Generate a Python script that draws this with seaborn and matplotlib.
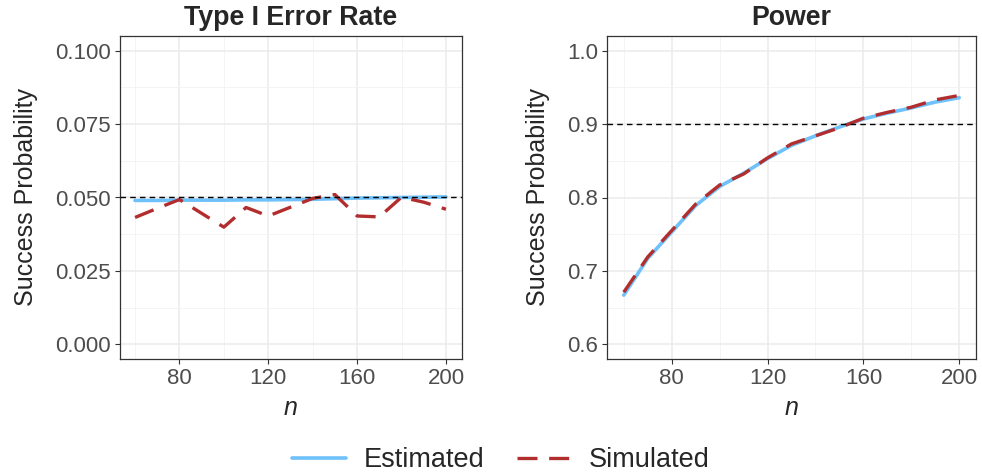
import numpy as np
import pandas as pd
import seaborn as sns
import matplotlib.pyplot as plt
from matplotlib.lines import Line2D

n_values = [60, 70, 80, 90, 100, 110, 120, 130, 140, 150, 160, 170, 180, 190, 200]

# type I error rate
t1_estimated = [0.0490, 0.0490, 0.0491, 0.0491, 0.0491, 0.0492, 0.0492, 0.0493,
                0.0494, 0.0496, 0.0498, 0.0499, 0.0500, 0.0501, 0.0502]
t1_simulated = [0.0432, 0.0463, 0.0493, 0.0446, 0.0399, 0.0466, 0.0437, 0.0467,
                0.0497, 0.0510, 0.0437, 0.0434, 0.0501, 0.0484, 0.0460]

# power
pw_estimated = [0.667, 0.717, 0.753, 0.789, 0.815, 0.833, 0.853, 0.871,
                0.884, 0.896, 0.907, 0.915, 0.922, 0.930, 0.936]
pw_simulated = [0.671, 0.719, 0.755, 0.791, 0.817, 0.832, 0.854, 0.873,
                0.884, 0.895, 0.908, 0.916, 0.923, 0.933, 0.939]

t1_target = 0.05
pw_target = 0.9

methods = ['Estimated', 'Simulated']
colors = {'Estimated': '#6EC1FA', 'Simulated': '#B22D2D'}
dash = (0, (6, 3.5))

def long_df(est, sim):
    return pd.DataFrame({
        'n': n_values * 2,
        'prob': est + sim,
        'Method': ['Estimated'] * len(n_values) + ['Simulated'] * len(n_values),
    })

sns.set_theme(style='white')
plt.rcParams['font.family'] = ['Liberation Sans', 'DejaVu Sans']

fig = plt.figure(figsize=(9.82, 4.74), dpi=100)
ax1 = fig.add_axes([119.5 / 982, 1 - 359 / 474, 342 / 982, 323 / 474])
ax2 = fig.add_axes([607 / 982, 1 - 359 / 474, 369 / 982, 323 / 474])

panels = [
    (ax1, long_df(t1_estimated, t1_simulated), 'Type I Error Rate', t1_target,
     (-0.005, 0.105), [0.0, 0.025, 0.05, 0.075, 0.1], ['0.000', '0.025', '0.050', '0.075', '0.100']),
    (ax2, long_df(pw_estimated, pw_simulated), 'Power', pw_target,
     (0.58, 1.02), [0.6, 0.7, 0.8, 0.9, 1.0], ['0.6', '0.7', '0.8', '0.9', '1.0']),
]

for ax, df, title, target, ylim, yticks, ylabels in panels:
    # grid first so lines sit on top
    for v in [60, 100, 140, 180]:
        ax.axvline(v, color='#F2F2F2', lw=0.6, zorder=0)
    for v in [80, 120, 160, 200]:
        ax.axvline(v, color='#EBEBEB', lw=1.1, zorder=0)
    step = yticks[1] - yticks[0]
    for v in yticks:
        ax.axhline(v, color='#EBEBEB', lw=1.1, zorder=0)
        ax.axhline(v + step / 2, color='#F2F2F2', lw=0.6, zorder=0)

    sns.lineplot(data=df[df['Method'] == 'Estimated'], x='n', y='prob',
                 color=colors['Estimated'], lw=2.6, ax=ax, legend=False, zorder=3)
    sns.lineplot(data=df[df['Method'] == 'Simulated'], x='n', y='prob',
                 color=colors['Simulated'], lw=2.4, ax=ax, legend=False, zorder=4,
                 linestyle=dash)
    ax.axhline(target, color='black', lw=1.0, ls=(0, (4, 3)), zorder=5)

    ax.set_xlim(53, 207)
    ax.set_ylim(*ylim)
    ax.set_xticks([80, 120, 160, 200])
    ax.set_xticklabels(['80', '120', '160', '200'])
    ax.set_yticks(yticks)
    ax.set_yticklabels(ylabels)
    ax.tick_params(axis='both', labelsize=16, colors='#333333', labelcolor='#4D4D4D',
                   length=3.5, width=0.8, direction='out', bottom=True, left=True, pad=3)
    for s in ax.spines.values():
        s.set_color('#333333')
        s.set_linewidth(0.9)
    ax.set_title(title, fontsize=19.3, fontweight='bold', pad=8)
    ax.set_xlabel('n', fontsize=18, style='italic', labelpad=5)
    ax.set_ylabel('Success Probability', fontsize=18, labelpad=12)

handles = [Line2D([], [], color=colors['Estimated'], lw=2.6),
           Line2D([], [], color=colors['Simulated'], lw=2.4, ls=dash)]
fig.legend(handles, methods, loc='lower center', ncol=2, frameon=False,
           fontsize=19.5, bbox_to_anchor=(0.51, -0.05), handlelength=2.0,
           columnspacing=1.2, handletextpad=0.65)

fig.savefig('out.png', dpi=100)
